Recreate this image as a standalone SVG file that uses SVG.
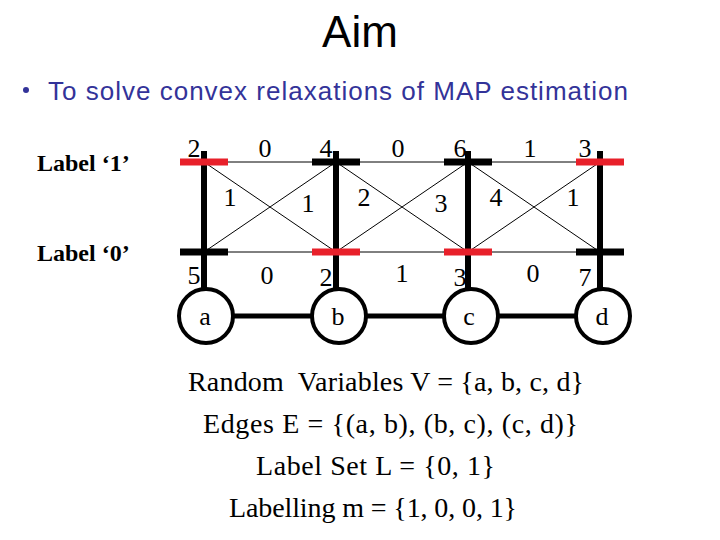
<svg xmlns="http://www.w3.org/2000/svg" width="720" height="540" viewBox="0 0 720 540">
<style>
.num{font-family:"Liberation Serif","Times New Roman",serif;font-size:26px;fill:#000;text-anchor:middle}
.lab{font-family:"Liberation Serif","Times New Roman",serif;font-size:24px;font-weight:bold;fill:#000}
.body{font-family:"Liberation Serif","Times New Roman",serif;font-size:28px;fill:#000}
.thin{stroke:#000;stroke-width:1;fill:none}
.vert{stroke:#000;stroke-width:6}
.edge{stroke:#000;stroke-width:5}
.node{fill:#fff;stroke:#000;stroke-width:4}
.bk{fill:#000}
.rd{fill:#e8202a}
</style>
<rect width="720" height="540" fill="#fff"/>
<text x="360" y="47" font-family="Liberation Sans, Arial, sans-serif" font-size="44" text-anchor="middle">Aim</text>
<circle cx="26" cy="90" r="3" fill="#333399"/>
<text x="48" y="100" font-family="Liberation Sans, Arial, sans-serif" font-size="26" fill="#333399" textLength="580" lengthAdjust="spacing">To solve convex relaxations of MAP estimation</text>
<text class="lab" x="37" y="171">Label ‘1’</text>
<text class="lab" x="37" y="261">Label ‘0’</text>
<g id="connectors">
<line class="thin" x1="204" y1="162" x2="600" y2="162"/>
<line class="thin" x1="204" y1="252" x2="600" y2="252"/>
<line class="thin" x1="204" y1="162" x2="336" y2="252"/>
<line class="thin" x1="204" y1="252" x2="336" y2="162"/>
<line class="thin" x1="336" y1="162" x2="468" y2="252"/>
<line class="thin" x1="336" y1="252" x2="468" y2="162"/>
<line class="thin" x1="468" y1="162" x2="600" y2="252"/>
<line class="thin" x1="468" y1="252" x2="600" y2="162"/>
<line class="edge" x1="206" y1="316" x2="600" y2="316"/>
</g>
<g id="node-a">
<line class="vert" x1="204" y1="151" x2="204" y2="290"/>
<rect class="rd" x="180" y="158.5" width="48" height="7"/>
<rect class="bk" x="180" y="248.5" width="48" height="7"/>
<circle class="node" cx="206" cy="316" r="27"/>
<text class="num" x="205" y="325">a</text>
</g>
<g id="node-b">
<line class="vert" x1="336" y1="151" x2="336" y2="290"/>
<rect class="bk" x="312" y="158.5" width="48" height="7"/>
<rect class="rd" x="312" y="248.5" width="48" height="7"/>
<circle class="node" cx="339" cy="316" r="27"/>
<text class="num" x="338" y="325">b</text>
</g>
<g id="node-c">
<line class="vert" x1="468" y1="151" x2="468" y2="290"/>
<rect class="bk" x="444" y="158.5" width="48" height="7"/>
<rect class="rd" x="444" y="248.5" width="48" height="7"/>
<circle class="node" cx="471" cy="316" r="27"/>
<text class="num" x="469" y="325">c</text>
</g>
<g id="node-d">
<line class="vert" x1="600" y1="151" x2="600" y2="290"/>
<rect class="rd" x="576" y="158.5" width="48" height="7"/>
<rect class="bk" x="576" y="248.5" width="48" height="7"/>
<circle class="node" cx="603" cy="316" r="27"/>
<text class="num" x="602" y="325">d</text>
</g>
<g id="potentials">
<text class="num" x="194" y="157">2</text>
<text class="num" x="265" y="157">0</text>
<text class="num" x="326" y="157">4</text>
<text class="num" x="398" y="157">0</text>
<text class="num" x="460" y="157">6</text>
<text class="num" x="530" y="157">1</text>
<text class="num" x="585" y="157">3</text>
<text class="num" x="230" y="206">1</text>
<text class="num" x="308" y="212">1</text>
<text class="num" x="364" y="206">2</text>
<text class="num" x="441" y="212">3</text>
<text class="num" x="496" y="206">4</text>
<text class="num" x="573" y="206">1</text>
<text class="num" x="194" y="284">5</text>
<text class="num" x="267" y="284">0</text>
<text class="num" x="326" y="286">2</text>
<text class="num" x="402" y="282">1</text>
<text class="num" x="460" y="286">3</text>
<text class="num" x="533" y="282">0</text>
<text class="num" x="585" y="286">7</text>
</g>
<text class="body" x="188" y="391" xml:space="preserve" textLength="396" lengthAdjust="spacing">Random  Variables V = {a, b, c, d}</text>
<text class="body" x="203" y="433" textLength="375" lengthAdjust="spacing">Edges E = {(a, b), (b, c), (c, d)}</text>
<text class="body" x="256" y="475" textLength="239" lengthAdjust="spacing">Label Set L = {0, 1}</text>
<text class="body" x="229" y="517" textLength="288" lengthAdjust="spacing">Labelling m = {1, 0, 0, 1}</text>
</svg>
